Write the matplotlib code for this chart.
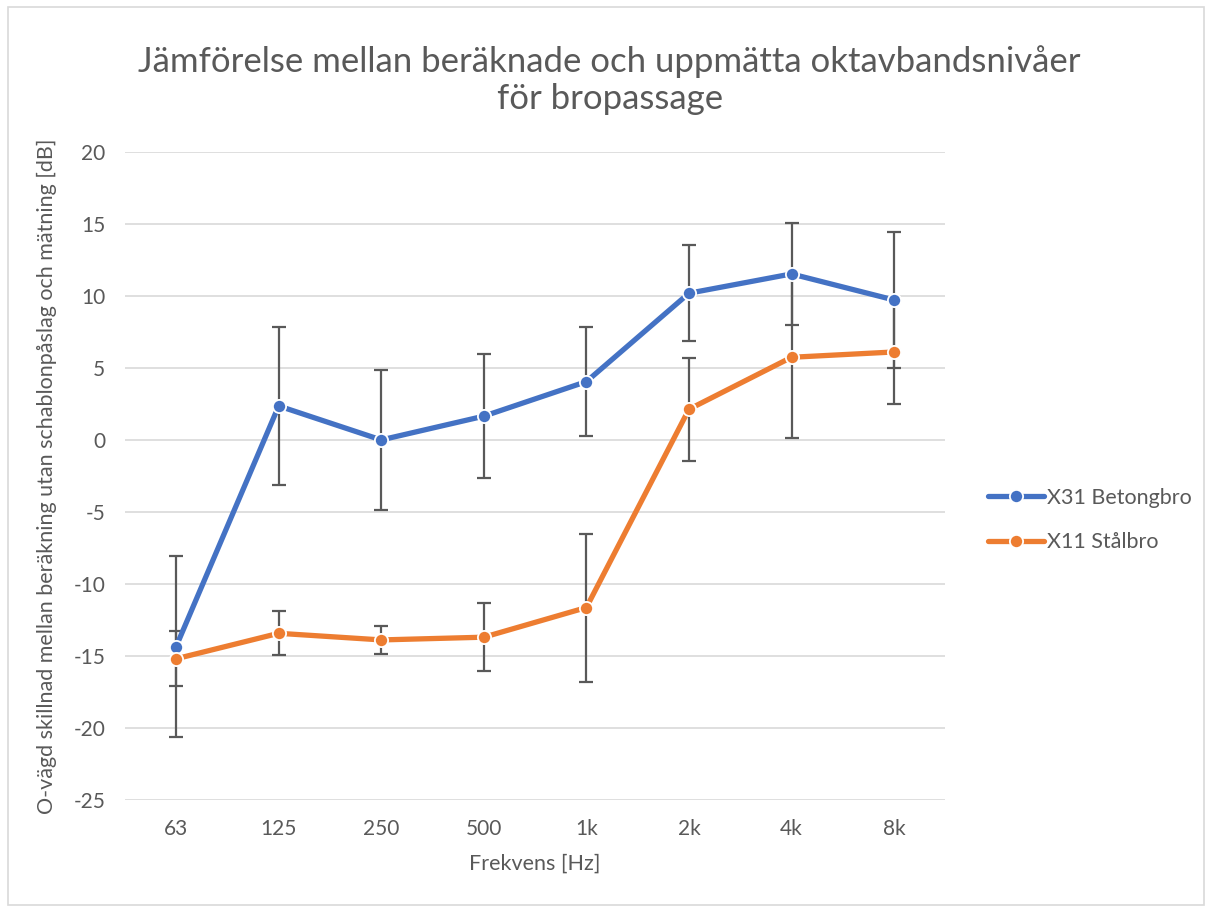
import matplotlib
matplotlib.use("Agg")
import matplotlib.pyplot as plt
from matplotlib.patches import Rectangle
import numpy as np

categories = ["63", "125", "250", "500", "1k", "2k", "4k", "8k"]
betong = [-14.35, 2.36, 0.0, 1.65, 4.05, 10.19, 11.53, 9.72]
betong_err = [6.3, 5.46, 4.87, 4.3, 3.77, 3.32, 3.54, 4.75]
stal = [-15.2, -13.43, -13.89, -13.7, -11.64, 2.13, 5.74, 6.11]
stal_err = [1.9, 1.53, 1.0, 2.38, 5.14, 3.58, 5.62, 3.63]
series_names = ["X31 Betongbro", "X11 Stålbro"]

plt.rcParams['font.family'] = ['Lato', 'DejaVu Sans']
plt.rcParams['axes.unicode_minus'] = False
fig = plt.figure(figsize=(12.12, 9.1), dpi=100)
ax = fig.add_axes([0.103, 0.121, 0.677, 0.712])

x = np.arange(len(categories))
blue = "#4472C4"
orange = "#ED7D31"
gray = "#595959"

for vals, errs in [(betong, betong_err), (stal, stal_err)]:
    ax.errorbar(x, vals, yerr=errs, fmt='none', ecolor=gray, elinewidth=1.6,
                capsize=5, capthick=1.6, zorder=2)

ax.plot(x, betong, color=blue, lw=3.8, marker='o', ms=9.5, mfc=blue, mec='white',
        mew=1.3, label=series_names[0], zorder=3, solid_capstyle='round')
ax.plot(x, stal, color=orange, lw=3.8, marker='o', ms=9.5, mfc=orange, mec='white',
        mew=1.3, label=series_names[1], zorder=3, solid_capstyle='round')

ax.set_xlim(-0.5, len(categories) - 0.5)
ax.set_ylim(-25, 20)
ax.set_yticks(np.arange(-25, 21, 5))
ax.set_xticks(x)
ax.set_xticklabels(categories)
ax.yaxis.grid(True, color="#D9D9D9", lw=1.2)
ax.set_axisbelow(True)
for s in ax.spines.values():
    s.set_visible(False)
ax.tick_params(axis='both', length=0, labelsize=15, colors=gray)
ax.tick_params(axis='x', pad=14)
ax.tick_params(axis='y', pad=14)

ax.set_xlabel("Frekvens [Hz]", fontsize=15.5, color=gray, labelpad=10)
ax.set_ylabel("O-vägd skillnad mellan beräkning utan schablonpåslag och mätning [dB]",
              fontsize=15.5, color=gray, labelpad=12)

fig.text(0.503, 0.912, "Jämförelse mellan beräknade och uppmätta oktavbandsnivåer\nför bropassage",
         ha='center', va='center', fontsize=25, color=gray, linespacing=1.17)

leg = ax.legend(loc='center left', bbox_to_anchor=(1.028, 0.432), frameon=False,
                fontsize=15.5, labelcolor=gray, handlelength=2.6, labelspacing=1.15,
                handletextpad=0.15)

fig.patches.append(Rectangle((0.007, 0.005), 0.986, 0.987, transform=fig.transFigure,
                             fill=False, edgecolor="#D9D9D9", lw=1.2))

fig.savefig("out.png", dpi=100, facecolor='white')
